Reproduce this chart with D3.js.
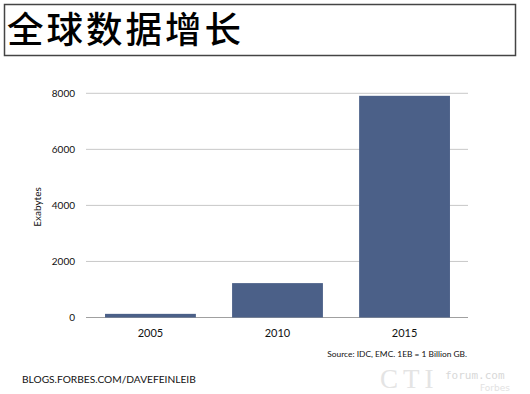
<!DOCTYPE html>
<html>
<head>
<meta charset="utf-8">
<script src="https://cdn.jsdelivr.net/npm/d3@7"></script>
<style>
  body { margin: 0; background: #fff; }
  svg { display: block; }
</style>
</head>
<body>
<div id="chart"></div>
<script>
const years = ["2005", "2010", "2015"];
const exabytes = [130, 1227, 7910];
const yTicks = [0, 2000, 4000, 6000, 8000];

const width = 530;
const height = 394;

const svg = d3.select("#chart").append("svg")
  .attr("width", width)
  .attr("height", height);

// titel-boks
svg.append("rect")
  .attr("x", 4.5).attr("y", 4.5)
  .attr("width", 511).attr("height", 51)
  .attr("fill", "none")
  .attr("stroke", "#444")
  .attr("stroke-width", 1.5);

svg.append("text")
  .text("全球数据增长")
  .attr("x", 7)
  .attr("y", 43)
  .attr("font-family", "Noto Sans CJK SC")
  .attr("font-weight", 500)
  .attr("font-size", 36.5)
  .attr("letter-spacing", 3)
  .attr("fill", "#000");

const x = d3.scaleBand()
  .domain(years)
  .range([87, 468])
  .paddingInner(0.285)
  .paddingOuter(0.142);

const y = d3.scaleLinear()
  .domain([0, 8000])
  .range([317.5, 93.3]);

// gridlinjer
svg.append("g")
  .selectAll("line")
  .data(yTicks)
  .join("line")
  .attr("x1", 86).attr("x2", 468)
  .attr("y1", d => y(d)).attr("y2", d => y(d))
  .attr("stroke", d => d === 0 ? "#a0a0a0" : "#c8c8c8")
  .attr("stroke-width", 1);

svg.append("g")
  .selectAll("text")
  .data(yTicks)
  .join("text")
  .text(d => d)
  .attr("x", 75)
  .attr("y", d => y(d) + 3.5)
  .attr("text-anchor", "end")
  .attr("font-family", "Lato")
  .attr("font-size", 10)
  .attr("fill", "#111");

svg.append("text")
  .text("Exabytes")
  .attr("transform", "translate(41,207) rotate(-90)")
  .attr("text-anchor", "middle")
  .attr("font-family", "Lato")
  .attr("font-size", 10)
  .attr("fill", "#111");

// soejler
svg.append("g")
  .selectAll("rect")
  .data(exabytes)
  .join("rect")
  .attr("x", (d, i) => x(years[i]))
  .attr("width", x.bandwidth())
  .attr("y", d => y(d))
  .attr("height", d => y(0) - y(d))
  .attr("fill", "#4b6088");

svg.append("g")
  .selectAll("text")
  .data(years)
  .join("text")
  .text(d => d)
  .attr("x", d => x(d) + x.bandwidth() / 2)
  .attr("y", 337)
  .attr("text-anchor", "middle")
  .attr("font-family", "Lato")
  .attr("font-size", 11)
  .attr("fill", "#111");

svg.append("text")
  .text("Source: IDC, EMC. 1EB = 1 Billion GB.")
  .attr("x", 467)
  .attr("y", 357)
  .attr("text-anchor", "end")
  .attr("font-family", "Lato")
  .attr("font-size", 8.4)
  .attr("fill", "#111");

svg.append("text")
  .text("BLOGS.FORBES.COM/DAVEFEINLEIB")
  .attr("x", 22)
  .attr("y", 383)
  .attr("font-family", "Lato")
  .attr("font-size", 10.2)
  .attr("fill", "#111");

// vandmaerke
svg.append("text")
  .text("CTI")
  .attr("x", 380)
  .attr("y", 388)
  .attr("font-family", "Liberation Serif")
  .attr("font-size", 27)
  .attr("letter-spacing", 5)
  .attr("fill", "#e4e4e4");

svg.append("text")
  .text("forum.com")
  .attr("x", 445)
  .attr("y", 379)
  .attr("font-family", "DejaVu Sans Mono")
  .attr("font-size", 11)
  .attr("fill", "#d8d8d8");

svg.append("text")
  .text("Forbes")
  .attr("x", 480)
  .attr("y", 391)
  .attr("font-family", "DejaVu Sans")
  .attr("font-size", 9)
  .attr("fill", "#e2e2e2");
</script>
</body>
</html>
